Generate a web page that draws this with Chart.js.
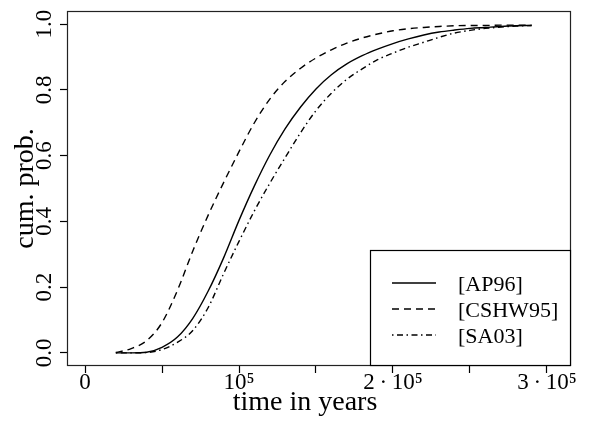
<!DOCTYPE html>
<html><head><meta charset="utf-8">
<script src="https://cdn.jsdelivr.net/npm/chart.js@4"></script>
<style>html,body{margin:0;padding:0;background:#fff;overflow:hidden}</style>
</head><body>
<canvas id="c" width="590" height="421"></canvas>
<script>
// ---- data ----
const years = [20000,30000,40000,50000,60000,70000,80000,90000,100000,110000,120000,130000,140000,150000,
  160000,170000,180000,190000,200000,210000,220000,230000,240000,250000,260000,270000,280000,290000];
const ap96   = [0.000,0.000,0.002,0.017,0.048,0.105,0.188,0.289,0.403,0.508,0.602,0.682,0.748,0.803,
  0.846,0.879,0.904,0.924,0.941,0.955,0.967,0.976,0.982,0.987,0.990,0.993,0.995,0.996];
const cshw95 = [0.001,0.013,0.037,0.092,0.190,0.310,0.419,0.518,0.612,0.700,0.772,0.826,0.866,0.897,
  0.922,0.942,0.958,0.970,0.980,0.986,0.990,0.993,0.995,0.996,0.996,0.997,0.997,0.997];
const sa03   = [0.000,0.000,0.001,0.010,0.032,0.068,0.138,0.241,0.339,0.432,0.516,0.594,0.670,0.737,
  0.790,0.832,0.864,0.892,0.912,0.930,0.945,0.960,0.973,0.981,0.987,0.991,0.994,0.996];
const seriesNames = ['[AP96]','[CSHW95]','[SA03]'];
const xTicks = [0,50000,100000,150000,200000,250000,300000];
const xTickLabels = ['0','','10\u2075','','2\u2009\u00b7\u200910\u2075','','3\u2009\u00b7\u200910\u2075'];
const yTicks = [0,0.2,0.4,0.6,0.8,1.0];
const yTickLabels = ['0.0','0.2','0.4','0.6','0.8','1.0'];
const xTitle = 'time in years';
const yTitle = 'cum. prob.';

const FONT = "'Liberation Serif', 'DejaVu Serif', serif";
const toXY = arr => arr.map((v,i)=>({x:years[i], y:v}));
const dashes = [[], [7,5], [1.5,3.5,6,3.5]];
const seriesData = [ap96, cshw95, sa03];

const boxPlugin = {
  id:'box',
  afterDraw(chart){
    const {ctx, chartArea:a} = chart;
    ctx.save();
    ctx.strokeStyle = '#222'; ctx.lineWidth = 1.2;
    ctx.strokeRect(a.left+0.5, a.top+0.5, a.right-a.left-1, a.bottom-a.top-1);
    // legend
    const lx = a.right - 201, ly = a.bottom - 116;
    ctx.fillStyle = '#fff';
    ctx.fillRect(lx, ly, 201, 116);
    ctx.strokeStyle = '#000'; ctx.lineWidth = 1.2;
    ctx.strokeRect(lx+0.5, ly+0.5, 200, 115);
    ctx.font = "22px " + FONT;
    ctx.textBaseline = 'middle';
    ctx.textAlign = 'left';
    chart.data.datasets.forEach((ds,i)=>{
      const y = ly + 33 + i*26;
      ctx.beginPath();
      ctx.setLineDash(ds.borderDash || []);
      ctx.lineWidth = ds.borderWidth;
      ctx.strokeStyle = '#000';
      ctx.moveTo(lx+22, y); ctx.lineTo(lx+66, y);
      ctx.stroke();
      ctx.setLineDash([]);
      ctx.fillStyle = '#000';
      ctx.fillText(ds.label, lx+88, y+2);
    });
    ctx.restore();
  }
};

new Chart(document.getElementById('c'), {
  type:'line',
  data:{
    datasets: seriesData.map((d,i)=>({
      label: seriesNames[i], data: toXY(d), borderColor:'#000', borderWidth:1.4,
      borderDash: dashes[i], pointRadius:0, fill:false, cubicInterpolationMode:'monotone'
    }))
  },
  options:{
    responsive:false, animation:false, devicePixelRatio:1,
    layout:{padding:{top:11,right:19,left:0,bottom:0}},
    plugins:{legend:{display:false}, tooltip:{enabled:false}},
    scales:{
      x:{type:'linear', min:-11700, max:315600,
        afterBuildTicks(s){ s.ticks = xTicks.map(v=>({value:v})); },
        afterFit(s){ s.height = 55; s.paddingLeft=0; s.paddingRight=0; },
        ticks:{autoSkip:false, maxRotation:0, minRotation:0, padding:-4, color:'#000',
          font:{family:FONT, size:23},
          callback(v){ const k = xTicks.indexOf(v); return k>=0 ? xTickLabels[k] : ''; }},
        grid:{drawOnChartArea:false, drawTicks:true, tickLength:7, color:'#000', tickWidth:1.2},
        border:{display:false},
        title:{display:true, text:xTitle + '\u2003', color:'#000', font:{family:FONT, size:28}, padding:{top:0,bottom:2}}
      },
      y:{type:'linear', min:-0.04, max:1.04,
        afterBuildTicks(s){ s.ticks = yTicks.map(v=>({value:v})); },
        afterFit(s){ s.width = 67; s.paddingTop=0; s.paddingBottom=0; },
        ticks:{autoSkip:false, minRotation:90, maxRotation:90, padding:1, crossAlign:'center', color:'#000',
          font:{family:FONT, size:23},
          callback(v){ const k = yTicks.findIndex(t=>Math.abs(t-v)<1e-9); return k>=0 ? yTickLabels[k] : ''; }},
        grid:{drawOnChartArea:false, drawTicks:true, tickLength:7, color:'#000', tickWidth:1.2},
        border:{display:false},
        title:{display:true, text:yTitle, color:'#000', font:{family:FONT, size:28}, padding:{top:9,bottom:0}}
      }
    }
  },
  plugins:[boxPlugin]
});
</script>
</body></html>
